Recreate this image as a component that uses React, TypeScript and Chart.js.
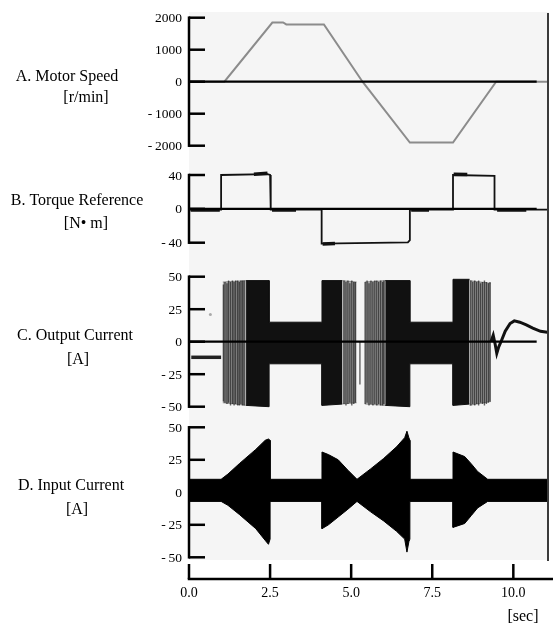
import React, { useEffect, useRef } from "react";
import { Chart, registerables } from "chart.js";

Chart.register(...registerables);

// ---------------- data ----------------
const timeTicks = [0, 2.5, 5, 7.5, 10];
const timeTickLabels = ["0.0", "2.5", "5.0", "7.5", "10.0"];
const speedTicks = [2000, 1000, 0, -1000, -2000];
const torqueTicks = [40, 0, -40];
const currentTicks = [50, 25, 0, -25, -50];

// A. Motor speed [r/min]
const speedT = [0, 1.09, 2.57, 2.9, 3.0, 4.16, 5.35, 6.81, 8.14, 9.47, 11.1];
const speedV = [0, 0, 1850, 1850, 1790, 1790, 0, -1900, -1900, 0, 0];

// B. Torque reference [N·m]
const torqueT = [0, 0.99, 0.99, 2.42, 2.5, 2.52, 2.52, 4.09, 4.09, 6.75, 6.81, 6.81, 8.14, 8.14, 9.42, 9.42, 11.1];
const torqueV = [-1, -1, 40, 41, 40, 40, -1, -1, -41, -39.5, -37, -1, -1, 40, 39, -1, -1];
// thick noisy parts of the torque trace (pairs = start/end of a blob)
const torqueBlobT = [0.05, 0.95, 2.0, 2.42, 2.56, 3.3, 4.12, 4.5, 6.85, 7.4, 8.16, 8.58, 9.5, 10.4];
const torqueBlobV = [-1.5, -1.5, 41, 42, -1.5, -1.5, -41.5, -41, -1.5, -1.5, 41, 40.5, -1.5, -1.5];

// C. Output current [A]
const outPreT = [0.07, 0.99];
const outPreV = [-12, -12];
const outDotT = [0.66];
const outDotV = [21];
const outDense1T = [1.76, 2.47, 2.47, 4.1, 4.1, 4.72];
const outDense1Hi = [47, 47, 15, 15, 47, 47];
const outDense1Lo = [-49, -50, -17, -17, -49, -48];
const outDense2T = [6.05, 6.81, 6.81, 8.14, 8.14, 8.65];
const outDense2Hi = [47, 47, 15, 15, 48, 48];
const outDense2Lo = [-49, -50, -17, -17, -49, -48];
const outSparse1T = [1.04, 1.76];
const outSparse1Hi = [46, 47];
const outSparse1Lo = [-47, -49];
const outSparse2T = [4.72, 5.17];
const outSparse2Hi = [47, 46];
const outSparse2Lo = [-48, -47];
const outSparse3T = [5.42, 6.05];
const outSparse3Hi = [46, 47];
const outSparse3Lo = [-48, -49];
const outSparse4T = [8.65, 9.31];
const outSparse4Hi = [47, 45];
const outSparse4Lo = [-49, -46];
const outStrokeT = [
  1.06, 1.11, 1.17, 1.22, 1.28, 1.34, 1.39, 1.44, 1.5, 1.55, 1.6, 1.65, 1.7,
  4.78, 4.84, 4.9, 4.96, 5.02, 5.08, 5.13, 5.27, 5.43, 5.49, 5.55, 5.61, 5.67, 5.73, 5.79, 5.85, 5.91, 5.97, 6.01,
  8.69, 8.75, 8.81, 8.87, 8.93, 8.99, 9.05, 9.11, 9.17, 9.23, 9.28,
];
const outStrokeHi = [
  44, 46, 45, 47, 46, 47, 46, 47, 47, 46, 47, 47, 47,
  47, 46, 47, 45, 47, 46, 46, 0, 46, 47, 45, 47, 46, 47, 47, 46, 47, 46, 47,
  47, 46, 47, 46, 47, 45, 46, 47, 46, 45, 46,
];
const outStrokeLo = [
  -46, -47, -48, -47, -49, -48, -49, -48, -49, -49, -48, -49, -49,
  -48, -49, -48, -47, -49, -48, -47, -33, -48, -47, -49, -48, -49, -48, -49, -48, -49, -49, -48,
  -49, -48, -49, -48, -49, -47, -48, -49, -48, -47, -46,
];
const outTailT = [9.31, 9.38, 9.44, 9.49, 9.55, 9.62, 9.75, 9.9, 10.03, 10.2, 10.4, 10.6, 10.84, 11.1];
const outTailV = [0, 5, -2, -9, -4, 0, 8, 14, 16, 15, 13, 10.5, 8, 7];

// D. Input current [A] (envelope of the ripple)
const inT = [0, 0.99, 1.2, 1.55, 2.06, 2.35, 2.45, 2.5, 2.5, 4.1, 4.1, 4.3, 4.6, 4.9, 5.18, 5.6, 6.0, 6.4, 6.65, 6.72, 6.78, 6.81, 6.81, 8.14, 8.14, 8.5, 8.7, 8.9, 9.21, 11.1];
const inHi = [10, 10, 14, 22, 33, 40, 41, 40, 10, 10, 31, 29, 25, 17, 10, 18, 26, 35, 42, 47, 42, 40, 10, 10, 31, 27.5, 22, 16, 10, 10];
const inLo = [-7, -7, -10, -17, -28, -37, -40, -36, -7, -7, -28, -25, -19, -13, -7, -15, -22, -30, -36, -46, -38, -36, -7, -7, -27, -24, -18, -12, -7, -7];

// zero reference lines
const zeroT = [0, 10.72];
const zeroV = [0, 0];

// ---------------- layout (pixels) ----------------
const W = 553;
const H = 627;
const AREA = { left: 189, right: 551.5, top: 12, bottom: 560 };
const X_MAX = 11.1;
const PANELS = [
  { id: "yA", vTop: 2000, pTop: 17.7, vBot: -2000, pBot: 145.7, ticks: speedTicks,
    title: "A. Motor Speed", unit: "[r/min]", tx: 67, ty: 77, ux: 86, uy: 98 },
  { id: "yB", vTop: 40, pTop: 175, vBot: -40, pBot: 242.7, ticks: torqueTicks,
    title: "B. Torque Reference", unit: "[N\u2022 m]", tx: 77, ty: 201, ux: 86, uy: 224 },
  { id: "yC", vTop: 50, pTop: 276.7, vBot: -50, pBot: 406.7, ticks: currentTicks,
    title: "C. Output Current", unit: "[A]", tx: 75, ty: 336, ux: 78, uy: 360 },
  { id: "yD", vTop: 50, pTop: 427.3, vBot: -50, pBot: 557.3, ticks: currentTicks,
    title: "D. Input Current", unit: "[A]", tx: 71, ty: 486, ux: 77, uy: 510 },
];
const X_AXIS_Y = 579;
const SERIF = '"Liberation Serif", "Times New Roman", serif';

function yRange(p: any) {
  const ppu = (p.pBot - p.pTop) / (p.vTop - p.vBot);
  return {
    max: p.vTop + (p.pTop - AREA.top) / ppu,
    min: p.vBot - (AREA.bottom - p.pBot) / ppu,
  };
}

const pts = (t: number[], v: (number | null)[]) => t.map((x, i) => ({ x, y: v[i] }));
const pairs = (t: number[], v: number[]) => {
  const out: any[] = [];
  for (let i = 0; i + 1 < t.length; i += 2) {
    out.push({ x: t[i], y: v[i] }, { x: t[i + 1], y: v[i + 1] }, { x: t[i + 1], y: null });
  }
  return out;
};
const strokes = (t: number[], hi: number[], lo: number[]) =>
  t.flatMap((x, i) => [{ x, y: hi[i] }, { x, y: lo[i] }, { x, y: null }]);

function line(yAxisID: string, data: any[], color: string, width: number, order: number, extra: any = {}) {
  return {
    type: "line", data, yAxisID, xAxisID: "x", borderColor: color, borderWidth: width,
    pointRadius: 0, fill: false, tension: 0, spanGaps: false, order, ...extra,
  };
}
function band(yAxisID: string, t: number[], hi: number[], lo: number[], color: string, order: number) {
  return [
    line(yAxisID, pts(t, hi), color, 1, order, { fill: "+1", backgroundColor: color }),
    line(yAxisID, pts(t, lo), color, 1, order),
  ];
}

const fmt = (v: number) => (v < 0 ? "-\u2009" + Math.abs(v) : String(v));

const decor = {
  id: "decor",
  beforeDraw(chart: any) {
    const { ctx, chartArea: ca } = chart;
    ctx.save();
    ctx.fillStyle = "#ffffff";
    ctx.fillRect(0, 0, chart.width, chart.height);
    ctx.fillStyle = "#f5f5f5";
    ctx.fillRect(ca.left, ca.top, ca.right - ca.left, ca.bottom - ca.top);
    ctx.restore();
  },
  afterDatasetsDraw(chart: any) {
    const { ctx, chartArea: ca } = chart;
    const xs = chart.scales.x;
    ctx.save();
    // right border of the recording
    ctx.strokeStyle = "#3a3a3a";
    ctx.lineWidth = 2;
    ctx.beginPath();
    ctx.moveTo(ca.right - 1, ca.top + 1);
    ctx.lineTo(ca.right - 1, ca.bottom + 1);
    ctx.stroke();

    ctx.strokeStyle = "#000";
    ctx.fillStyle = "#000";
    ctx.lineWidth = 2.5;
    ctx.lineCap = "butt";
    for (const p of PANELS) {
      const s = chart.scales[p.id];
      const yTop = s.getPixelForValue(Math.max(...p.ticks));
      const yBot = s.getPixelForValue(Math.min(...p.ticks));
      ctx.beginPath();
      ctx.moveTo(ca.left, yTop - 1.25);
      ctx.lineTo(ca.left, yBot + 1.25);
      ctx.stroke();
      ctx.font = "13.5px " + SERIF;
      ctx.textAlign = "right";
      ctx.textBaseline = "middle";
      for (const v of p.ticks) {
        const y = s.getPixelForValue(v);
        ctx.beginPath();
        ctx.moveTo(ca.left, y);
        ctx.lineTo(ca.left + 16, y);
        ctx.stroke();
        ctx.fillText(fmt(v), 182, y + 1);
      }
      ctx.font = "16px " + SERIF;
      ctx.textAlign = "center";
      ctx.fillText(p.title, p.tx, p.ty);
      ctx.fillText(p.unit, p.ux, p.uy);
    }
    // time axis
    ctx.beginPath();
    ctx.moveTo(ca.left - 1.25, X_AXIS_Y);
    ctx.lineTo(W, X_AXIS_Y);
    ctx.stroke();
    ctx.font = "14px " + SERIF;
    ctx.textAlign = "center";
    ctx.textBaseline = "middle";
    timeTicks.forEach((t, i) => {
      const x = xs.getPixelForValue(t);
      ctx.beginPath();
      ctx.moveTo(x, X_AXIS_Y);
      ctx.lineTo(x, X_AXIS_Y - 15);
      ctx.stroke();
      ctx.fillText(timeTickLabels[i], x, X_AXIS_Y + 14);
    });
    ctx.font = "16px " + SERIF;
    ctx.fillText("[sec]", 523, 617);
    ctx.restore();
  },
};

export default function App() {
  const ref = useRef<HTMLCanvasElement | null>(null);
  useEffect(() => {
    if (!ref.current) return;
    const scales: any = {
      x: { type: "linear", min: 0, max: X_MAX, display: false },
    };
    for (const p of PANELS) {
      const r = yRange(p);
      scales[p.id] = { type: "linear", display: false, min: r.min, max: r.max };
    }
    const sparse = "rgba(0,0,0,0.3)";
    const datasets: any[] = [
      // zero lines (on top)
      line("yA", pts(zeroT, zeroV), "#000", 2.2, 0),
      line("yB", pts(zeroT, zeroV), "#000", 2.2, 0),
      line("yC", pts(zeroT, zeroV), "#000", 2.2, 0),
      // A
      line("yA", pts(speedT, speedV), "#8c8c8c", 2, 1),
      // B
      line("yB", pts(torqueT, torqueV), "#111", 1.8, 1),
      line("yB", pairs(torqueBlobT, torqueBlobV), "#111", 3.5, 2),
      // C
      line("yC", pts(outPreT, outPreV), "#222", 3.5, 1),
      line("yC", pts(outDotT, outDotV), "#aaa", 0, 1, { pointRadius: 1.5, pointBackgroundColor: "#aaa", pointBorderWidth: 0, showLine: false }),
      line("yC", pts(outTailT, outTailV), "#111", 3, 1),
      line("yC", strokes(outStrokeT, outStrokeHi, outStrokeLo), "rgba(0,0,0,0.6)", 1.4, 2),
      ...band("yC", outDense1T, outDense1Hi, outDense1Lo, "#111", 3),
      ...band("yC", outDense2T, outDense2Hi, outDense2Lo, "#111", 3),
      ...band("yC", outSparse1T, outSparse1Hi, outSparse1Lo, sparse, 4),
      ...band("yC", outSparse2T, outSparse2Hi, outSparse2Lo, sparse, 4),
      ...band("yC", outSparse3T, outSparse3Hi, outSparse3Lo, sparse, 4),
      ...band("yC", outSparse4T, outSparse4Hi, outSparse4Lo, sparse, 4),
      // D
      ...band("yD", inT, inHi, inLo, "#000", 3),
    ];
    const chart = new Chart(ref.current, {
      type: "line",
      data: { datasets },
      options: {
        responsive: false,
        animation: false,
        events: [],
        devicePixelRatio: 1,
        layout: {
          padding: { left: AREA.left, right: W - AREA.right, top: AREA.top, bottom: H - AREA.bottom },
        },
        scales,
        plugins: { legend: { display: false }, tooltip: { enabled: false } },
      } as any,
      plugins: [decor],
    } as any);
    return () => chart.destroy();
  }, []);
  return (
    <canvas
      ref={ref}
      width={W}
      height={H}
      style={{ position: "fixed", left: 0, top: 0, width: W, height: H, display: "block" }}
    />
  );
}
